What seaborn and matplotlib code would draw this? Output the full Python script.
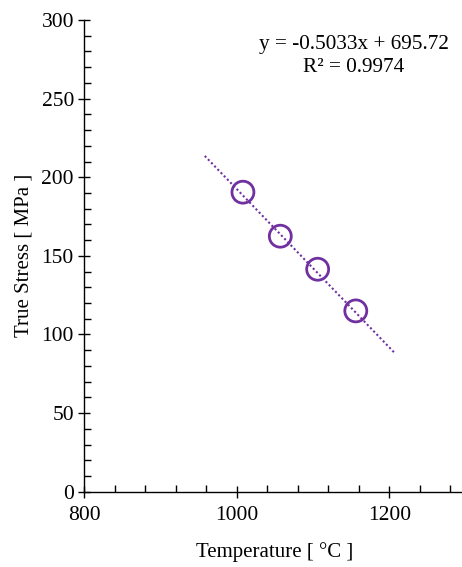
import numpy as np
import pandas as pd
import seaborn as sns
import matplotlib.pyplot as plt
from matplotlib.ticker import MultipleLocator

# data
temperature = [1008, 1057, 1106, 1156]
true_stress = [190.5, 162.5, 141.5, 115.0]
fit_slope = -0.5033
fit_intercept = 695.72
fit_r2 = 0.9974

sns.set_style("ticks")
plt.rcParams['font.family'] = ['Liberation Serif', 'DejaVu Serif']
plt.rcParams['text.color'] = 'black'
plt.rcParams['axes.labelcolor'] = 'black'

purple = '#7030A0'

df = pd.DataFrame({'T': temperature, 'S': true_stress})

# trendline, extended 50 forward / backward like excel
tx = np.array([min(temperature) - 50, max(temperature) + 50])
trend = pd.DataFrame({'T': tx, 'S': fit_slope * tx + fit_intercept})

fig = plt.figure(figsize=(4.62, 5.67), dpi=100)
ax = fig.add_axes([0.1825, 0.1328, 0.8253, 0.8319])

sns.lineplot(data=trend, x='T', y='S', ax=ax, color=purple,
             linestyle=(0, (1, 1.2)), linewidth=1.5)
sns.scatterplot(data=df, x='T', y='S', ax=ax, marker='o', s=250,
                facecolor='none', edgecolor=purple, linewidth=2.0, zorder=3)

ax.set_xlim(800, 1300)
ax.set_ylim(0, 300)
ax.xaxis.set_major_locator(MultipleLocator(200))
ax.xaxis.set_minor_locator(MultipleLocator(40))
ax.yaxis.set_major_locator(MultipleLocator(50))
ax.yaxis.set_minor_locator(MultipleLocator(10))
ax.tick_params(which='major', direction='inout', length=9, width=1,
               labelsize=15.5, color='black', labelcolor='black')
ax.tick_params(which='minor', direction='in', length=5, width=1, color='black')
ax.tick_params(axis='x', which='major', pad=6)
ax.tick_params(axis='y', which='major', pad=3)

for s in ['top', 'right']:
    ax.spines[s].set_visible(False)
for s in ['left', 'bottom']:
    ax.spines[s].set_color('black')
    ax.spines[s].set_linewidth(1)

ax.set_xlabel('Temperature [ °C ]', fontsize=15, labelpad=12)
ax.set_ylabel('True Stress [ MPa ]', fontsize=15, labelpad=6)

ax.text(1153, 277, f'y = {fit_slope}x + {fit_intercept}\nR² = {fit_r2}',
        ha='center', va='center', fontsize=15.3, linespacing=1.25)

fig.savefig('out.png', dpi=100)
